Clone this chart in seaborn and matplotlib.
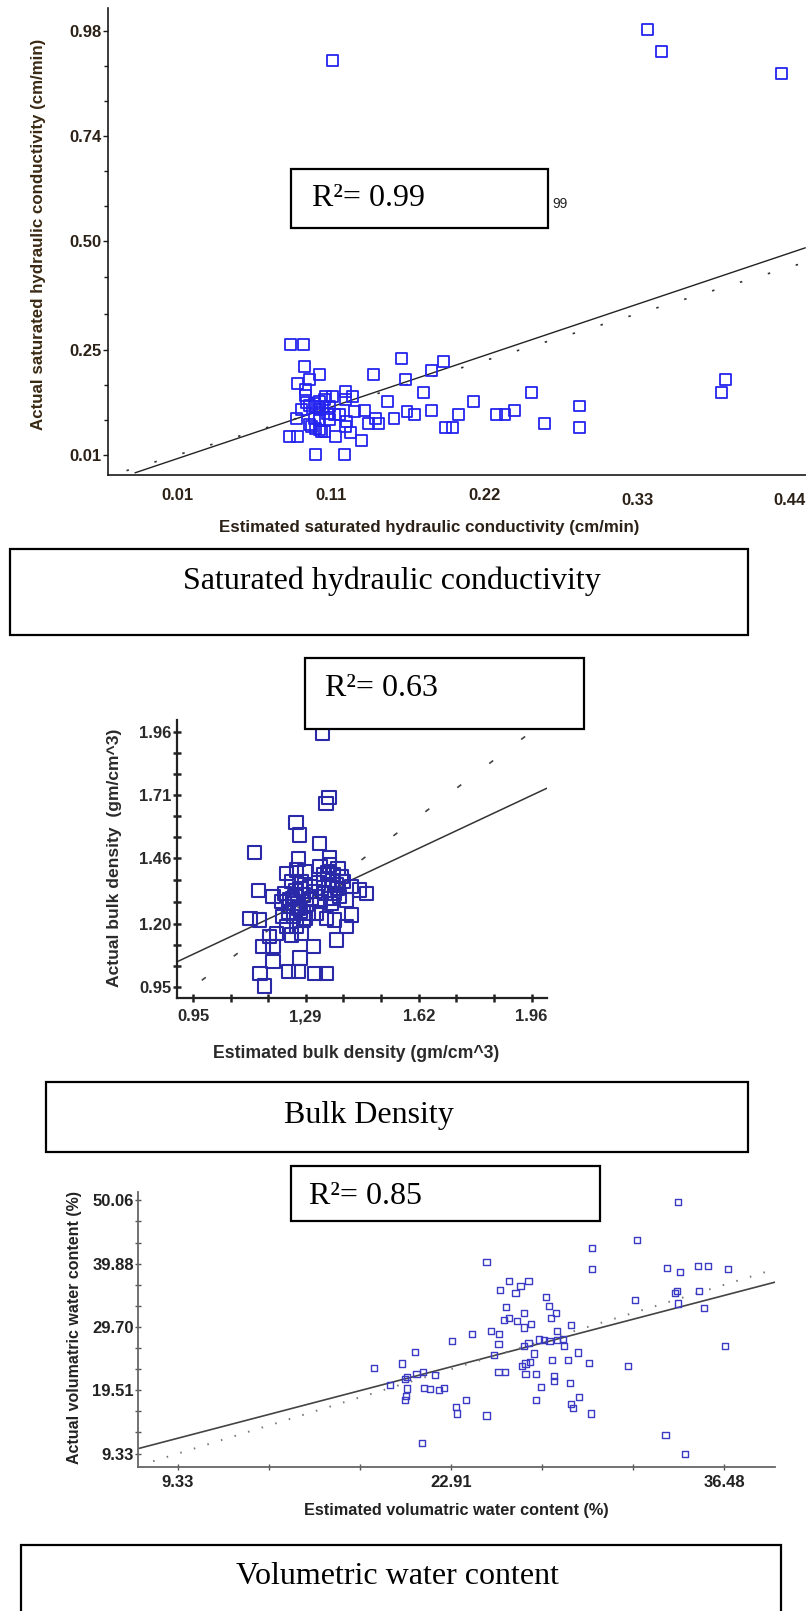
import numpy as np
import pandas as pd
import matplotlib
matplotlib.use("Agg")
import matplotlib.pyplot as plt
from matplotlib.patches import Rectangle
from matplotlib.ticker import FixedLocator
from matplotlib.transforms import ScaledTranslation
import seaborn as sns

# ---------------- data: saturated hydraulic conductivity (cm/min) ----------------
ksat_est = [0.340, 0.350, 0.119, 0.434,
            0.0894, 0.0986, 0.0993, 0.1096, 0.094, 0.1023, 0.0998, 0.0998, 0.1476, 0.1675,
            0.1965, 0.1886, 0.1703, 0.1827, 0.2589, 0.2181, 0.1576, 0.2926, 0.2926, 0.2679,
            0.2465, 0.240, 0.2338, 0.2074, 0.1886, 0.1766, 0.1711, 0.162, 0.1983, 0.203,
            0.392, 0.395, 0.1067, 0.1269, 0.0885, 0.094, 0.121, 0.1393, 0.1313, 0.111,
            0.113, 0.104, 0.128,
            0.1284, 0.144, 0.1512, 0.1487, 0.1415, 0.1342, 0.1277, 0.133, 0.1277, 0.1186,
            0.1139, 0.0932, 0.0968, 0.1023, 0.1059, 0.1096, 0.1131, 0.1168, 0.1204, 0.124,
            0.1096, 0.115, 0.1059, 0.1023, 0.1096, 0.1168, 0.1067, 0.112, 0.1005, 0.1096,
            0.1067]
ksat_act = [0.984, 0.933, 0.912, 0.883,
            0.262, 0.262, 0.212, 0.193, 0.174, 0.182, 0.159, 0.147, 0.193, 0.231,
            0.223, 0.203, 0.182, 0.153, 0.153, 0.132, 0.132, 0.122, 0.072, 0.0825,
            0.111, 0.103, 0.103, 0.1015, 0.111, 0.1015, 0.109, 0.094, 0.072, 0.072,
            0.153, 0.182, 0.0116, 0.0116, 0.052, 0.052, 0.052, 0.044, 0.061, 0.063,
            0.063, 0.075, 0.075,
            0.086, 0.0825, 0.0825, 0.094, 0.111, 0.109, 0.155, 0.143, 0.137, 0.143,
            0.143, 0.094, 0.113, 0.124, 0.128, 0.132, 0.136, 0.120, 0.1015, 0.1015,
            0.113, 0.105, 0.094, 0.0786, 0.090, 0.090, 0.120, 0.121, 0.130, 0.067,
            0.071]
ksat_fit_x = [-0.020, 0.451]
ksat_fit_y = [-0.031, 0.484]
ksat_line_11 = [-0.026, 0.452]
ksat_xtick_pos = [0.01, 0.1176, 0.2258, 0.3334, 0.4402]
ksat_xtick_lab = ["0.01", "0.11", "0.22", "0.33", "0.44"]
ksat_ytick_pos = [0.01, 0.25, 0.50, 0.74, 0.98]
ksat_ytick_lab = ["0.01", "0.25", "0.50", "0.74", "0.98"]

# ---------------- data: bulk density (gm/cm^3) ----------------
bd_est = [1.335, 1.355, 1.346, 1.256, 1.266, 1.326, 1.132, 1.357, 1.263, 1.144,
          1.188, 1.119, 1.148, 1.158, 1.188, 1.188, 1.149, 1.163, 1.233, 1.263,
          1.313, 1.347, 1.268, 1.308, 1.243, 1.273, 1.228, 1.372, 1.422, 1.407,
          1.377, 1.447, 1.467, 1.407, 1.422, 1.347, 1.318, 1.283, 1.198, 1.178,
          1.228, 1.258, 1.283, 1.243, 1.273, 1.298, 1.223, 1.253, 1.278, 1.303,
          1.233, 1.263, 1.288, 1.218, 1.248, 1.278, 1.238, 1.268, 1.213, 1.258,
          1.293,
          1.328, 1.357, 1.382, 1.338, 1.367, 1.392, 1.323, 1.353, 1.377, 1.397,
          1.343, 1.372, 1.328, 1.362, 1.387, 1.313,
          1.245, 1.260, 1.270, 1.255, 1.235, 1.365, 1.350, 1.380, 1.340, 1.360]
bd_act = [1.954, 1.699, 1.676, 1.600, 1.551, 1.518, 1.481, 1.459, 1.455, 1.330,
          1.307, 1.221, 1.214, 1.109, 1.109, 1.049, 1.003, 0.953, 1.010, 1.010,
          1.003, 1.003, 1.063, 1.109, 1.155, 1.161, 1.188, 1.214, 1.234, 1.188,
          1.135, 1.333, 1.320, 1.293, 1.346, 1.221, 1.241, 1.221, 1.161, 1.148,
          1.399, 1.412, 1.406, 1.366, 1.366, 1.346, 1.320, 1.307, 1.313, 1.300,
          1.267, 1.261, 1.274, 1.228, 1.228, 1.214, 1.294, 1.340, 1.287, 1.188,
          1.241,
          1.426, 1.432, 1.419, 1.393, 1.393, 1.386, 1.360, 1.353, 1.353, 1.366,
          1.320, 1.320, 1.287, 1.280, 1.307, 1.327,
          1.300, 1.280, 1.250, 1.330, 1.245, 1.370, 1.400, 1.340, 1.375, 1.300]
bd_fit_x = [0.902, 2.006]
bd_fit_y = [1.049, 1.736]
bd_line_11 = [0.975, 2.0]
bd_xtick_pos = [0.95, 1.285, 1.623, 1.96]
bd_xtick_lab = ["0.95", "1,29", "1.62", "1.96"]
bd_ytick_pos = [0.95, 1.20, 1.46, 1.71, 1.96]
bd_ytick_lab = ["0.95", "1.20", "1.46", "1.71", "1.96"]

# ---------------- data: volumetric water content (%) ----------------
vwc_est = [34.20, 32.13, 29.90, 29.90, 24.67, 33.64, 34.28, 35.18, 35.69, 36.66,
           32.05, 34.05, 34.12, 35.23, 34.18, 35.48, 36.51, 31.69, 33.56, 34.51,
           21.47, 24.67, 29.87, 28.98, 28.87, 29.28, 28.80, 28.03, 28.00, 27.39,
           27.11, 27.11, 26.60, 26.42, 26.60, 26.83, 27.03, 27.93, 28.72, 29.23,
           29.74, 25.60, 25.26, 25.03, 25.26, 25.29, 24.90, 23.96, 22.96, 23.65,
           23.14, 23.21, 22.57, 22.29, 21.86, 21.55, 22.09, 21.50, 21.19, 20.73,
           20.60, 20.73, 20.68, 20.60, 19.88, 20.47, 21.11, 19.06, 25.34, 25.78,
           26.11, 26.36, 26.75, 25.65, 25.54, 25.80, 26.19, 26.54, 26.88, 26.54,
           27.62, 27.77, 28.11, 27.88, 28.16, 28.87, 27.26, 27.52, 27.80, 28.46,
           28.52, 26.75, 26.52, 28.16]
vwc_act = [49.79, 43.74, 42.40, 39.02, 40.15, 39.18, 38.54, 39.45, 39.45, 39.02,
           34.09, 35.16, 35.43, 35.48, 33.45, 32.75, 26.64, 23.42, 12.38, 9.22,
           11.04, 15.44, 15.76, 16.72, 17.26, 18.44, 20.74, 21.01, 21.76, 20.05,
           17.90, 22.19, 22.19, 23.42, 23.80, 24.07, 25.41, 24.44, 24.33, 25.57,
           23.96, 22.46, 22.46, 25.14, 27.01, 28.62, 29.00, 28.62, 27.39, 17.90,
           16.83, 15.76, 19.89, 19.51, 19.72, 19.89, 21.97, 22.46, 22.19, 21.65,
           21.38, 19.78, 18.54, 17.90, 20.31, 23.80, 25.67, 23.15, 35.59, 37.09,
           35.16, 36.23, 37.09, 32.91, 30.87, 31.14, 30.60, 31.94, 30.12, 29.59,
           34.52, 33.07, 31.94, 31.14, 29.05, 29.96, 27.66, 27.55, 27.39, 27.82,
           26.58, 27.12, 26.58, 27.55]
vwc_fit_x = [7.36, 39.0]
vwc_fit_y = [10.13, 36.9]
vwc_line_11 = [8.1, 39.0]
vwc_xtick_pos = [9.33, 22.91, 36.48]
vwc_xtick_lab = ["9.33", "22.91", "36.48"]
vwc_ytick_pos = [9.33, 19.51, 29.70, 39.88, 50.06]
vwc_ytick_lab = ["9.33", "19.51", "29.70", "39.88", "50.06"]

titles = ["Saturated hydraulic conductivity", "Bulk Density", "Volumetric water content"]
r2_labels = ["R\u00b2= 0.99", "R\u00b2= 0.63", "R\u00b2= 0.85"]

# ---------------- figure ----------------
sns.set_theme(style="white")
plt.rcParams["font.family"] = ["Liberation Sans", "DejaVu Sans"]
W, H = 806, 1611
fig = plt.figure(figsize=(W / 100, H / 100), dpi=100)
fig.patch.set_facecolor("white")

SANS = ["Liberation Sans", "DejaVu Sans"]
SERIF = ["Liberation Serif", "DejaVu Serif"]


def make_ax(l, t, r, b):
    return fig.add_axes([l / W, 1 - b / H, (r - l) / W, (b - t) / H])


def place_labels(ax, box, xl, yl):
    l, t, r, b = box
    ax.xaxis.set_label_coords((xl[0] - l) / (r - l), (b - xl[1]) / (b - t))
    ax.yaxis.set_label_coords((yl[0] - l) / (r - l), (b - yl[1]) / (b - t))


def thirds(pos):
    out = []
    for a, c in zip(pos[:-1], pos[1:]):
        out += [a + (c - a) / 3, a + 2 * (c - a) / 3]
    return out


# ===== Panel 1 =====
box1 = (108, 8, 806, 475)
ax1 = make_ax(*box1)
df1 = pd.DataFrame({"est": ksat_est, "act": ksat_act})
sns.scatterplot(data=df1, x="est", y="act", ax=ax1, marker="s", s=62,
                color="#2424ee", facecolor="none", edgecolor="#2424ee", linewidth=1.3,
                legend=False, zorder=3)
sns.lineplot(x=ksat_fit_x, y=ksat_fit_y, ax=ax1, color="#222222", lw=1.0, zorder=2)
sns.lineplot(x=ksat_line_11, y=ksat_line_11, ax=ax1, color="#333333", lw=1.2,
             linestyle=(0, (1.5, 16)), zorder=2)
ax1.set_xlim(-0.039, 0.4515)
ax1.set_ylim(-0.036, 1.033)
ax1.set_xticks(ksat_xtick_pos)
ax1.set_xticklabels(ksat_xtick_lab)
ax1.set_yticks(ksat_ytick_pos)
ax1.set_yticklabels(ksat_ytick_lab)
ax1.yaxis.set_minor_locator(FixedLocator(thirds(ksat_ytick_pos)))
for s in ["top", "right"]:
    ax1.spines[s].set_visible(False)
for s in ["left", "bottom"]:
    ax1.spines[s].set_color("#1a1a1a")
    ax1.spines[s].set_linewidth(1.2)
ax1.tick_params(axis="x", direction="in", length=4, width=1, pad=9, colors="#1a1a1a")
ax1.tick_params(axis="y", which="both", direction="out", length=3.5, width=1, pad=1,
                colors="#1a1a1a", left=True)
ax1.tick_params(axis="y", which="minor", length=3)
for lab in ax1.get_xticklabels() + ax1.get_yticklabels():
    lab.set_family(SANS)
    lab.set_fontweight("bold")
    lab.set_fontsize(12)
    lab.set_color("#2b2117")
ax1.set_xlabel("Estimated saturated hydraulic conductivity (cm/min)", family=SANS,
               fontweight="bold", fontsize=12.2, color="#2b2117", va="center")
ax1.set_ylabel("Actual saturated hydraulic conductivity (cm/min)", family=SANS,
               fontweight="bold", fontsize=12.2, color="#3a2a14", va="center", ha="center")
place_labels(ax1, box1, (429, 527), (39, 234))
ax1.patch.set_alpha(0)

# ===== Panel 2 =====
box2 = (177, 720, 547, 998)
ax2 = make_ax(*box2)
df2 = pd.DataFrame({"est": bd_est, "act": bd_act})
sns.scatterplot(data=df2, x="est", y="act", ax=ax2, marker="s", s=92,
                color="#2a2aa8", facecolor="none", edgecolor="#2a2aa8", linewidth=1.5,
                legend=False, zorder=3, clip_on=False)
sns.lineplot(x=bd_fit_x, y=bd_fit_y, ax=ax2, color="#333333", lw=1.1, zorder=2)
sns.lineplot(x=bd_line_11, y=bd_line_11, ax=ax2, color="#444444", lw=1.2,
             linestyle=(0, (3, 21)), zorder=2)
ax2.set_xlim(0.901, 2.006)
ax2.set_ylim(0.905, 2.006)
ax2.set_xticks(bd_xtick_pos)
ax2.set_xticklabels(bd_xtick_lab)
ax2.set_yticks(bd_ytick_pos)
ax2.set_yticklabels(bd_ytick_lab)
ax2.xaxis.set_minor_locator(FixedLocator(thirds(bd_xtick_pos)))
ax2.yaxis.set_minor_locator(FixedLocator(thirds(bd_ytick_pos)))
for s in ["top", "right"]:
    ax2.spines[s].set_visible(False)
for s in ["left", "bottom"]:
    ax2.spines[s].set_color("#222222")
    ax2.spines[s].set_linewidth(1.6)
ax2.tick_params(axis="both", which="both", direction="inout", length=6, width=1.8,
                colors="#222222", bottom=True, left=True)
ax2.tick_params(axis="x", pad=5)
ax2.tick_params(axis="y", pad=1)
for lab in ax2.get_xticklabels() + ax2.get_yticklabels():
    lab.set_family(SANS)
    lab.set_fontweight("bold")
    lab.set_fontsize(12)
    lab.set_color("#2a2a2a")
ax2.set_xlabel("Estimated bulk density (gm/cm^3)", family=SANS, fontweight="bold",
               fontsize=12.7, color="#2a2a2a", va="center")
ax2.set_ylabel("Actual bulk density  (gm/cm^3)", family=SANS, fontweight="bold",
               fontsize=12.6, color="#2a2a2a", va="center", ha="center")
place_labels(ax2, box2, (356, 1054), (115, 858))
ax2.patch.set_alpha(0)

# ===== Panel 3 =====
box3 = (138, 1192, 775, 1467)
ax3 = make_ax(*box3)
df3 = pd.DataFrame({"est": vwc_est, "act": vwc_act})
sns.scatterplot(data=df3, x="est", y="act", ax=ax3, marker="s", s=20,
                color="#3a3ac4", facecolor="none", edgecolor="#3a3ac4", linewidth=1.0,
                legend=False, zorder=3)
sns.lineplot(x=vwc_fit_x, y=vwc_fit_y, ax=ax3, color="#444444", lw=1.2, zorder=2)
sns.lineplot(x=vwc_line_11, y=vwc_line_11, ax=ax3, color="#777777", lw=1.4,
             linestyle=(0, (0.8, 6.5)), zorder=2)
ax3.set_xlim(7.35, 39.0)
ax3.set_ylim(7.17, 51.4)
ax3.set_xticks(vwc_xtick_pos)
ax3.set_xticklabels(vwc_xtick_lab)
ax3.set_yticks(vwc_ytick_pos)
ax3.set_yticklabels(vwc_ytick_lab)
ax3.xaxis.set_minor_locator(FixedLocator(thirds(vwc_xtick_pos)))
ax3.yaxis.set_minor_locator(FixedLocator(thirds(vwc_ytick_pos)))
for s in ["top", "right"]:
    ax3.spines[s].set_visible(False)
for s in ["left", "bottom"]:
    ax3.spines[s].set_color("#666666")
    ax3.spines[s].set_linewidth(1.3)
ax3.tick_params(axis="both", which="both", direction="inout", length=4, width=1,
                colors="#555555", bottom=True, left=True)
ax3.tick_params(axis="x", pad=4, labelcolor="#222222")
ax3.tick_params(axis="y", pad=1, labelcolor="#222222")
for lab in ax3.get_xticklabels() + ax3.get_yticklabels():
    lab.set_family(SANS)
    lab.set_fontweight("bold")
    lab.set_fontsize(12)
ax3.set_xlabel("Estimated volumatric water content (%)", family=SANS,
               fontweight="bold", fontsize=11.7, color="#222222", va="center")
ax3.set_ylabel("Actual volumatric water content (%)", family=SANS, fontweight="bold",
               fontsize=11.5, color="#222222", va="center", ha="center")
place_labels(ax3, box3, (456, 1510), (75, 1328))
ax3.patch.set_alpha(0)

# the last two x tick labels of panel 1 sit slightly lower in the original
for lab in ax1.get_xticklabels()[3:]:
    lab.set_transform(lab.get_transform() + ScaledTranslation(0, -0.05, fig.dpi_scale_trans))


# ===== boxes with text =====
def add_box(x0, y0, x1, y1, lw=1.6):
    fig.add_artist(Rectangle((x0 / W, 1 - y1 / H), (x1 - x0) / W, (y1 - y0) / H,
                             transform=fig.transFigure, facecolor="white",
                             edgecolor="black", linewidth=lw, zorder=5))


def add_text(x, y, s, ha="center", size=23):
    fig.text(x / W, 1 - y / H, s, ha=ha, va="center", fontsize=size, family=SERIF,
             color="black", zorder=6)


# R² boxes
add_box(291, 169, 548, 228)
add_text(312, 199, r2_labels[0], ha="left")
fig.text(552 / W, 1 - 204 / H, "99", ha="left", va="center", fontsize=10,
         family=SANS, color="#222222")
add_box(305, 658, 584, 729)
add_text(325, 688, r2_labels[1], ha="left")
add_box(291, 1166, 600, 1221)
add_text(309, 1197, r2_labels[2], ha="left")

# title boxes
add_box(10, 549, 748, 635)
add_text(392, 581, titles[0])
add_box(46, 1082, 748, 1152)
add_text(369, 1116, titles[1])
add_box(21, 1545, 781, 1625)
add_text(397, 1577, titles[2])

fig.savefig("out.png", dpi=100, facecolor="white")
